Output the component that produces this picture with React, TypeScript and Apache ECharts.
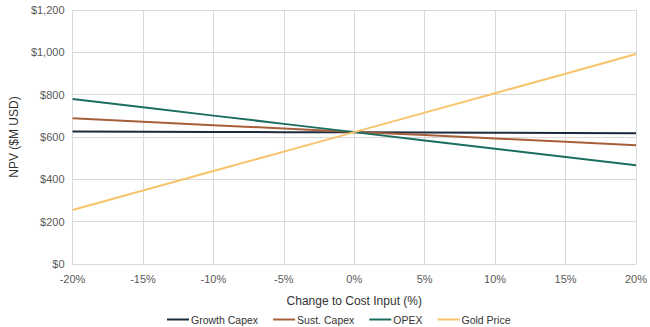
import React, { useEffect, useRef } from "react";
import * as echarts from "echarts";

const categories = ["-20%", "-15%", "-10%", "-5%", "0%", "5%", "10%", "15%", "20%"];
const growthCapex = [626, 625, 624, 623, 622, 621, 620, 619, 618];
const sustCapex = [688, 672, 656, 640, 624, 609, 593, 577, 561];
const opex = [779, 740, 701, 662, 623, 584, 545, 506, 467];
const goldPrice = [255, 347, 439, 531, 623, 715, 807, 899, 992];

const seriesNames = ["Growth Capex", "Sust. Capex", "OPEX", "Gold Price"];
const seriesColors = ["#1c2a3e", "#a65f3a", "#1b6e5e", "#f7c46c"];

export default function App() {
  const ref = useRef<HTMLDivElement>(null);
  useEffect(() => {
    if (!ref.current) return;
    const chart = echarts.init(ref.current, null, { renderer: "svg" });
    const font = "'Liberation Sans', Arial, sans-serif";
    const data = [growthCapex, sustCapex, opex, goldPrice];
    chart.setOption({
      animation: false,
      textStyle: { fontFamily: font },
      grid: { left: 62, right: 13, top: 10, bottom: 63 },
      legend: {
        top: 309,
        left: 162,
        data: seriesNames,
        itemWidth: 22,
        itemHeight: 2,
        itemGap: 15,
        icon: "rect",
        textStyle: { fontFamily: font, fontSize: 10.5, color: "#333333", padding: [0, 0, 0, -3] },
      },
      xAxis: {
        type: "category",
        data: categories,
        boundaryGap: false,
        name: "Change to Cost Input (%)",
        nameLocation: "middle",
        nameGap: 31,
        nameTextStyle: { fontSize: 12, color: "#333333", fontFamily: font },
        axisLine: { lineStyle: { color: "#d9d9d9" } },
        axisTick: { show: false },
        axisLabel: { fontSize: 11, color: "#595959", margin: 9, fontFamily: font },
        splitLine: { show: true, lineStyle: { color: "#d9d9d9" } },
      },
      yAxis: {
        type: "value",
        min: 0,
        max: 1200,
        interval: 200,
        name: "NPV ($M USD)",
        nameLocation: "middle",
        nameGap: 48,
        nameTextStyle: { fontSize: 12, color: "#333333", fontFamily: font },
        axisLine: { show: true, lineStyle: { color: "#d9d9d9" } },
        axisLabel: {
          fontSize: 11,
          color: "#595959",
          margin: 8,
          fontFamily: font,
          formatter: (v: number) => "$" + v.toLocaleString("en-US"),
        },
        splitLine: { lineStyle: { color: "#d9d9d9" } },
      },
      series: seriesNames.map((name, i) => ({
        name,
        type: "line",
        data: data[i],
        symbol: "none",
        color: seriesColors[i],
        lineStyle: { width: 2, color: seriesColors[i] },
      })),
    });
    return () => chart.dispose();
  }, []);
  return <div ref={ref} style={{ width: 650, height: 327, position: "absolute", left: 0, top: 0 }} />;
}
